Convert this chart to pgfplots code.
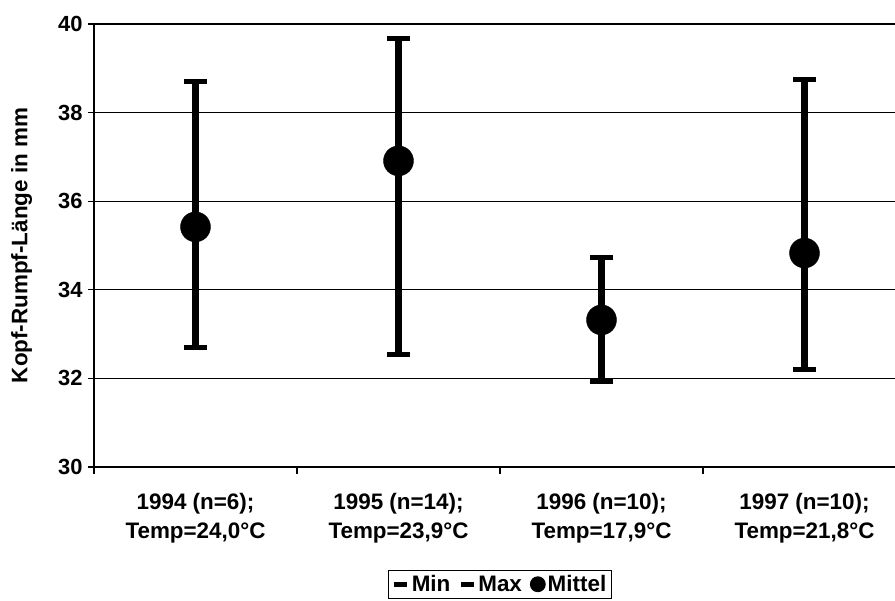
\documentclass[border=0pt]{standalone}
\usepackage{fontspec}
\setmainfont{Liberation Sans}
\usepackage{pgfplots}
\pgfplotsset{compat=1.18}
\begin{document}
\begin{tikzpicture}
\begin{axis}[
  name=ax,
  scale only axis,
  width=812bp, height=443bp,
  xmin=0.5, xmax=4.5,
  ymin=30, ymax=40,
  ytick={30,32,...,40},
  xtick={1,2,3,4},
  xticklabels={{1994 (n=6);\\Temp=24,0°C},{1995 (n=14);\\Temp=23,9°C},{1996 (n=10);\\Temp=17,9°C},{1997 (n=10);\\Temp=21,8°C}},
  minor xtick={0.5,1.5,2.5,3.5},
  major x tick style={draw=none},
  minor x tick style={black, line width=1.2bp},
  minor tick length=7bp,
  major tick length=6bp,
  y tick style={black, line width=1.2bp},
  tick align=outside,
  tick pos=left,
  ymajorgrids,
  grid style={black, line width=0.8bp},
  axis line style={black, line width=1.6bp},
  /pgf/number format/assume math mode=true,
  yticklabel style={font=\bfseries\fontsize{22}{26}\selectfont, xshift=-2bp},
  xticklabel style={font=\bfseries\fontsize{22.5}{29}\selectfont, align=center, yshift=-17bp},
  ylabel={Kopf-Rumpf-Länge in mm},
  ylabel style={font=\bfseries\fontsize{22.5}{26}\selectfont, at={(axis description cs:-0.089,0.5)}, anchor=center},
  legend columns=3,
  legend style={at={(axis description cs:0.5,-0.2325)}, anchor=north, draw=black, line width=0.8bp,
    font=\bfseries\fontsize{22.5}{26}\selectfont, inner xsep=3bp, inner ysep=3bp,
    /tikz/every even column/.append style={column sep=6bp}},
  legend cell align=left,
  clip=false,
]
% vertical min-max bars
\addplot[forget plot, black, line width=7bp, unbounded coords=jump] coordinates {
  (1,32.69) (1,38.71) (1,nan)
  (2,32.53) (2,39.68) (2,nan)
  (3,31.92) (3,34.72) (3,nan)
  (4,32.21) (4,38.74)
};
% Min
\addplot[only marks, mark=-, mark size=11.5bp, mark options={line width=5bp, black},
  legend image code/.code={\draw[black, line width=5bp] (0bp,0bp) -- (13bp,0bp);}] coordinates {
  (1,32.69) (2,32.53) (3,31.92) (4,32.21)
};
\addlegendentry{Min}
% Max
\addplot[only marks, mark=-, mark size=11.5bp, mark options={line width=5bp, black},
  legend image code/.code={\draw[black, line width=5bp] (0bp,0bp) -- (13bp,0bp);}] coordinates {
  (1,38.71) (2,39.68) (3,34.72) (4,38.74)
};
\addlegendentry{Max}
% Mittel
\addplot[only marks, mark=*, mark size=15bp, mark options={black, fill=black},
  legend image code/.code={\fill[black] (7bp,0bp) circle (7.5bp);}] coordinates {
  (1,35.42) (2,36.91) (3,33.32) (4,34.83)
};
\addlegendentry{Mittel}
\coordinate (O) at (rel axis cs:0,0);
\end{axis}
\pgfresetboundingbox
\path[use as bounding box] ([xshift=-94bp,yshift=-134bp]O) rectangle ([xshift=801bp,yshift=467bp]O);
\end{tikzpicture}
\end{document}
